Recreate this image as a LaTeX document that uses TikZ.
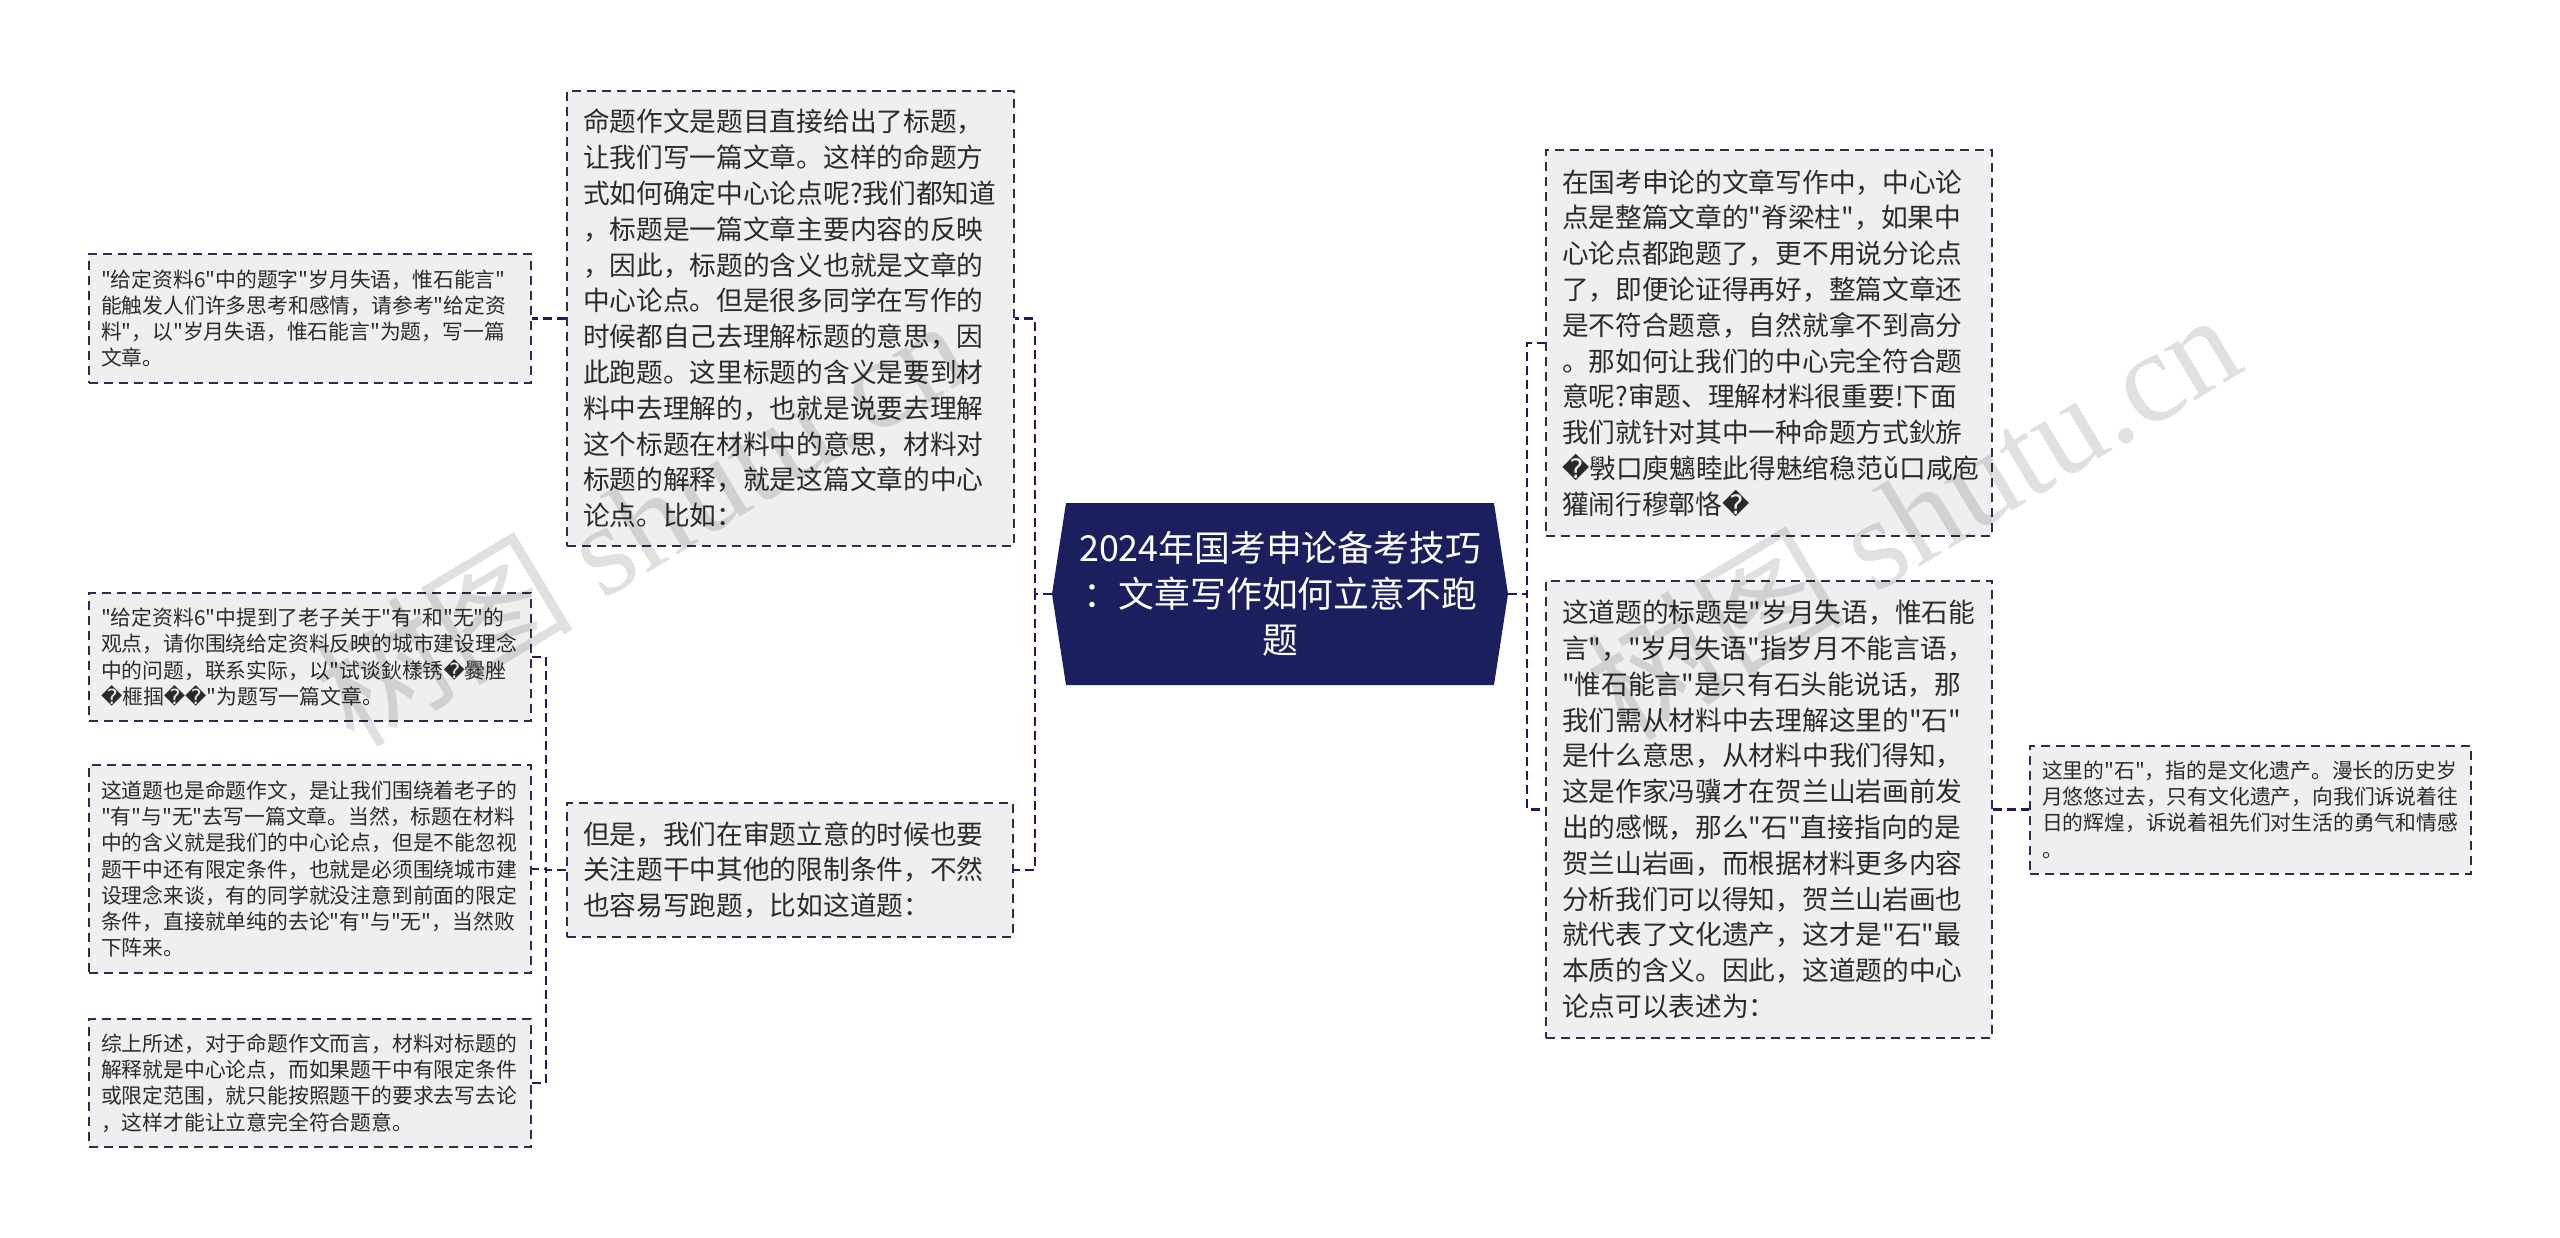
\documentclass[tikz,border=0pt]{standalone}
\usepackage{fontspec}
\setmainfont{Noto Sans CJK SC}[Ligatures=TeXOff]
\newfontfamily\dvfont{DejaVu Sans}
\newfontfamily\wmserif{Liberation Serif}
\newcommand\rpch{{\dvfont �}}
\definecolor{navy}{HTML}{1B1F5E}
\definecolor{boxfill}{HTML}{EFEFEF}
\definecolor{txt}{HTML}{2B2B2B}
\definecolor{edgec}{HTML}{2A2F4E}
\begin{document}
\begin{tikzpicture}[x=1pt,y=-1pt,
  bigbox/.style={draw=edgec, line width=2pt, dash pattern=on 9pt off 6pt, fill=boxfill,
    text=txt, align=left, inner xsep=16pt, inner ysep=0pt, anchor=center,
    font=\fontsize{26.7pt}{35.8pt}\selectfont},
  smallbox/.style={draw=edgec, line width=2pt, dash pattern=on 9pt off 6pt, fill=boxfill,
    text=txt, align=left, inner xsep=12pt, inner ysep=0pt, anchor=center,
    text width=418pt, font=\fontsize{20.8pt}{26.3pt}\selectfont},
  conn/.style={draw=navy, line width=2.5pt, dash pattern=on 9pt off 5pt},
  wm/.style={text=black, opacity=0.12, rotate=31, font=\fontsize{130pt}{130pt}\selectfont}
]
\useasboundingbox (0,0) rectangle (2560,1238);
\fill[white] (0,0) rectangle (2560,1238);

% central topic
\fill[navy] (1052,594) -- (1066,503) -- (1494,503) -- (1508,594) -- (1494,685) -- (1066,685) -- cycle;
\node[minimum width=456pt, minimum height=182pt, inner sep=0pt, text=white, align=center,
  font=\fontsize{35.8pt}{46pt}\selectfont] (c) at (1280,594)
  {2024年国考申论备考技巧\\：文章写作如何立意不跑\\题};

% left main boxes
\node[bigbox, text width=415pt, minimum height=455pt] (b1) at (790.5,318.5)
  {命题作文是题目直接给出了标题，\\让我们写一篇文章。这样的命题方\\式如何确定中心论点呢?我们都知道\\，标题是一篇文章主要内容的反映\\，因此，标题的含义也就是文章的\\中心论点。但是很多同学在写作的\\时候都自己去理解标题的意思，因\\此跑题。这里标题的含义是要到材\\料中去理解的，也就是说要去理解\\这个标题在材料中的意思，材料对\\标题的解释，就是这篇文章的中心\\论点。比如：};
\node[bigbox, text width=414pt, minimum height=134pt] (b2) at (790,870)
  {但是，我们在审题立意的时候也要\\关注题干中其他的限制条件，不然\\也容易写跑题，比如这道题：};

% left small boxes
\node[smallbox, minimum height=129pt] (bA) at (310,318.5)
  {"给定资料6"中的题字"岁月失语，惟石能言"\\能触发人们许多思考和感情，请参考"给定资\\料"，以"岁月失语，惟石能言"为题，写一篇\\文章。};
\node[smallbox, minimum height=128pt] (bB) at (310,657)
  {"给定资料6"中提到了老子关于"有"和"无"的\\观点，请你围绕给定资料反映的城市建设理念\\中的问题，联系实际，以"试谈鈥樣锈\rpch 爨脞\\\rpch 榧掴\rpch\rpch "为题写一篇文章。};
\node[smallbox, minimum height=208pt] (bC) at (310,869)
  {这道题也是命题作文，是让我们围绕着老子的\\"有"与"无"去写一篇文章。当然，标题在材料\\中的含义就是我们的中心论点，但是不能忽视\\题干中还有限定条件，也就是必须围绕城市建\\设理念来谈，有的同学就没注意到前面的限定\\条件，直接就单纯的去论"有"与"无"，当然败\\下阵来。};
\node[smallbox, minimum height=128pt] (bD) at (310,1083)
  {综上所述，对于命题作文而言，材料对标题的\\解释就是中心论点，而如果题干中有限定条件\\或限定范围，就只能按照题干的要求去写去论\\，这样才能让立意完全符合题意。};

% right boxes
\node[bigbox, text width=414pt, minimum height=386pt] (r1) at (1769,343)
  {在国考申论的文章写作中，中心论\\点是整篇文章的"脊梁柱"，如果中\\心论点都跑题了，更不用说分论点\\了，即便论证得再好，整篇文章还\\是不符合题意，自然就拿不到高分\\。那如何让我们的中心完全符合题\\意呢?审题、理解材料很重要!下面\\我们就针对其中一种命题方式鈥旂\\\rpch 斅口庾魑睦此得魅绾稳范ǔ口咸庖\\獾闹行穆鄣恪\rpch};
\node[bigbox, text width=414pt, minimum height=457pt] (r2) at (1769,809.5)
  {这道题的标题是"岁月失语，惟石能\\言"，"岁月失语"指岁月不能言语，\\"惟石能言"是只有石头能说话，那\\我们需从材料中去理解这里的"石"\\是什么意思，从材料中我们得知，\\这是作家冯骥才在贺兰山岩画前发\\出的感慨，那么"石"直接指向的是\\贺兰山岩画，而根据材料更多内容\\分析我们可以得知，贺兰山岩画也\\就代表了文化遗产，这才是"石"最\\本质的含义。因此，这道题的中心\\论点可以表述为：};
\node[smallbox, text width=417pt, minimum height=128pt] (r3) at (2250.5,809.5)
  {这里的"石"，指的是文化遗产。漫长的历史岁\\月悠悠过去，只有文化遗产，向我们诉说着往\\日的辉煌，诉说着祖先们对生活的勇气和情感\\。};

% connectors
\draw[conn] (c.west) -- ++(-17,0) |- (b1.east);
\draw[conn] (c.west) -- ++(-17,0) |- (b2.east);
\draw[conn] (b1.west) -- (bA.east);
\draw[conn] (b2.west) -- ++(-20,0) |- (bB.east);
\draw[conn] (b2.west) -- ++(-20,0) |- (bC.east);
\draw[conn] (b2.west) -- ++(-20,0) |- (bD.east);
\draw[conn] (c.east) -- ++(19,0) |- (r1.west);
\draw[conn] (c.east) -- ++(19,0) |- (r2.west);
\draw[conn] (r2.east) -- (r3.west);

% watermarks
\node[wm] (wm1) at (640,520) {树图 {\wmserif shutu.cn}};
\node[wm] (wm2) at (1912,514) {树图 {\wmserif shutu.cn}};
\end{tikzpicture}
\end{document}
